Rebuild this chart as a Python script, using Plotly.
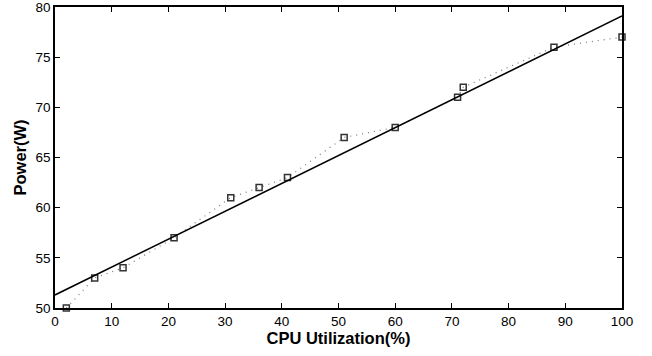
import plotly.graph_objects as go

cpu = [2, 7, 12, 21, 31, 36, 41, 51, 60, 71, 72, 88, 100]
power = [50, 53, 54, 57, 61, 62, 63, 67, 68, 71, 72, 76, 77]
fit_x = [0, 100]
fit_y = [51.3, 79.1]

fig = go.Figure()
fig.add_trace(go.Scatter(x=cpu, y=power, mode="lines+markers",
                         line=dict(color="#777777", width=1.2, dash="1px,5px"),
                         marker=dict(symbol="square-open", size=6, color="#333333",
                                     line=dict(width=1.5, color="#333333")),
                         showlegend=False, cliponaxis=False))
fig.add_trace(go.Scatter(x=fit_x, y=fit_y, mode="lines",
                         line=dict(color="black", width=1.5), showlegend=False))

font = "Liberation Sans, Arial, sans-serif"
axis_common = dict(showgrid=False, zeroline=False, showline=True, linecolor="black",
                   linewidth=1.5, mirror="ticks", ticks="inside", ticklen=5,
                   tickcolor="black", tickwidth=1, ticklabeloverflow="allow",
                   automargin=False,
                   tickfont=dict(family=font, size=13.5, color="black"))
fig.update_xaxes(range=[0, 100], dtick=10, tick0=0,
                 title=dict(text="<b>CPU Utilization(%)</b>", font=dict(family=font, size=16.5, color="black"), standoff=3),
                 **axis_common)
fig.update_yaxes(range=[50, 80], dtick=5, tick0=50,
                 title=dict(text="<b>Power(W)</b>", font=dict(family=font, size=16.5, color="black"), standoff=5),
                 **axis_common)
fig.update_layout(width=652, height=356, margin=dict(l=55, r=30, t=7, b=48),
                  plot_bgcolor="white", paper_bgcolor="white")
fig.write_html("out.html")
